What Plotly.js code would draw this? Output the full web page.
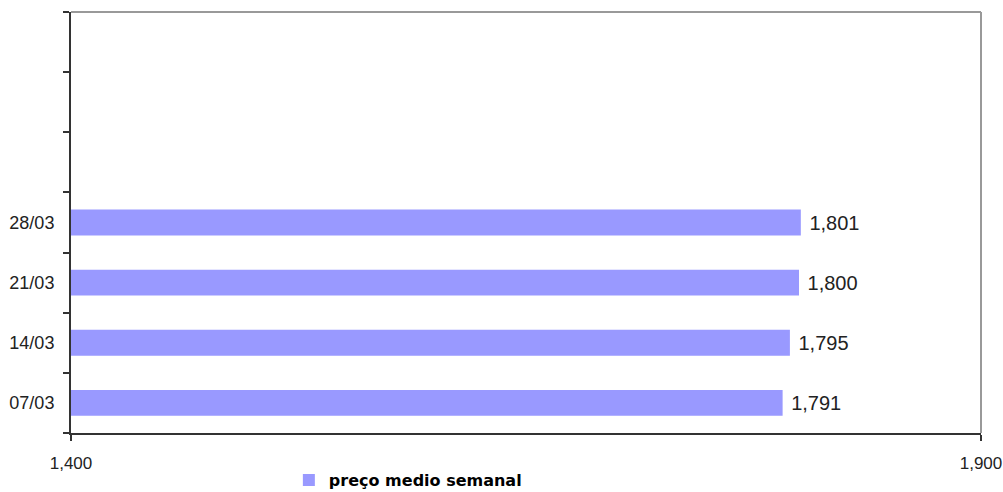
<!DOCTYPE html>
<html>
<head>
<meta charset="utf-8">
<script src="https://cdn.plot.ly/plotly-3.0.1.min.js"></script>
<style>html,body{margin:0;padding:0;background:#fff;}#chart{width:1003px;height:492px;}</style>
</head>
<body>
<div id="chart"></div>
<script>
var categories = ['07/03', '14/03', '21/03', '28/03'];
var prices = [1.791, 1.795, 1.800, 1.801];
var seriesName = 'preço medio semanal';
var xTicks = [1.4, 1.9];
var slotCount = 7;

var yIdx = categories.map(function (c, i) { return i; });
var SANS = '"Liberation Sans", Arial, Helvetica, sans-serif';

var trace = {
  type: 'bar',
  orientation: 'h',
  x: prices,
  y: yIdx,
  name: seriesName,
  marker: {color: '#9999FF', line: {width: 0}},
  text: prices.map(function (v) { return '\u00A0' + v.toFixed(3).replace('.', ','); }),
  textposition: 'outside',
  textfont: {family: SANS, size: 20, color: '#222'},
  cliponaxis: false,
  hoverinfo: 'x+y'
};

var layout = {
  width: 1003, height: 492,
  margin: {l: 71, r: 22, t: 12, b: 59, autoexpand: false},
  paper_bgcolor: '#fff', plot_bgcolor: '#fff',
  separators: ',.',
  showlegend: true,
  bargap: 0.57,
  legend: {
    orientation: 'h', xref: 'container', yref: 'paper',
    x: 0.288, xanchor: 'left', y: -0.112, yanchor: 'middle',
    font: {family: '"DejaVu Sans", sans-serif', size: 16, color: '#000', weight: 'bold'},
    itemwidth: 30
  },
  xaxis: {
    range: [1.4, 1.9],
    tickmode: 'array', tickvals: xTicks, tickformat: '.3f',
    ticks: 'outside', ticklen: 6, tickwidth: 2, tickcolor: '#333',
    ticklabelstandoff: 8,
    showline: true, linecolor: '#333', linewidth: 2,
    showgrid: false, zeroline: false, automargin: false,
    tickfont: {family: SANS, size: 17, color: '#222'}
  },
  yaxis: {
    range: [-0.5, slotCount - 0.5],
    tickmode: 'array', tickvals: yIdx, ticktext: categories,
    ticks: '', ticklabelstandoff: 11, automargin: false,
    minor: {tickmode: 'linear', tick0: -0.5, dtick: 1, ticks: 'outside', ticklen: 6, tickwidth: 2, tickcolor: '#333', showgrid: false},
    showline: true, linecolor: '#333', linewidth: 2,
    showgrid: false, zeroline: false,
    tickfont: {family: SANS, size: 18, color: '#222'}
  },
  shapes: [
    {type: 'line', xref: 'paper', yref: 'paper', x0: 0, x1: 1, y0: 1, y1: 1, line: {color: '#999', width: 2}},
    {type: 'line', xref: 'paper', yref: 'paper', x0: 1, x1: 1, y0: 0, y1: 1, line: {color: '#999', width: 2}}
  ]
};

Plotly.newPlot('chart', [trace], layout, {displayModeBar: false, staticPlot: true});
</script>
</body>
</html>
